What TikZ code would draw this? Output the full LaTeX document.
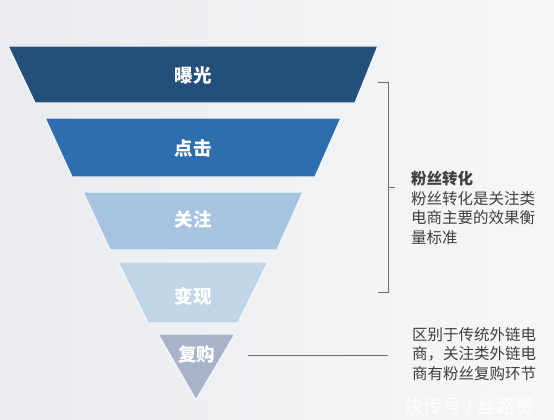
\documentclass[tikz,border=0pt]{standalone}
\usepackage{fontspec}
\newfontfamily\cjk{Noto Sans CJK SC}

\definecolor{bgL}{HTML}{E9EBEE}
\definecolor{bgR}{HTML}{F7F7F8}
\definecolor{layA}{HTML}{234F7A}
\definecolor{layB}{HTML}{2E6DAE}
\definecolor{layC}{HTML}{A6C4E0}
\definecolor{layD}{HTML}{C0D5E8}
\definecolor{layE}{HTML}{A7B3C9}
\definecolor{txtgrey}{HTML}{3F3F3F}
\definecolor{rulegrey}{HTML}{6E6E6E}

\tikzset{
  layer/.style={draw=white!85!layC, line width=1.3pt, line join=miter},
  lab/.style={font=\cjk\fontsize{18.5}{18.5}\selectfont\bfseries, text=white, inner sep=0},
  note/.style={font=\cjk\fontsize{15.5}{19.5}\selectfont, text=txtgrey, align=left,
               anchor=north west, inner sep=0, text width=140pt},
  rule/.style={draw=rulegrey, line width=0.8pt}
}

\begin{document}
\begin{tikzpicture}[x=1pt, y=-1pt]

  % background
  \shade[left color=bgL, right color=bgR] (0,0) rectangle (554,420);
  \useasboundingbox (0,0) rectangle (554,420);

  %draw funnel
  \foreach \ytop/\ybot/\tl/\tr/\bl/\br/\col/\ly/\txt/\name in {
      46/103/8/378/35/355/layA/75/曝光/s1,
      118/177/45/341/72/315/layB/148/点击/s2,
      192/250/83/303/110/277/layC/219/关注/s3,
      262/323/118/268/148/238/layD/296/变现/s4,
      334/400/158/235/196/196/layE/354/复购/s5 }{
         \draw[layer, fill=\col] (\tl,\ytop) -- (\tr,\ytop) -- (\br,\ybot) -- (\bl,\ybot) -- cycle;
         \node[lab] (\name) at ({(\tl+\tr)/2}, \ly) {\txt};
  }

  % bracket
  \coordinate (bt0) at (378,82);
  \coordinate (bt1) at (388,82);
  \coordinate (bb1) at (388,292);
  \coordinate (bb0) at (378,292);
  \coordinate (bm0) at (388,187);
  \coordinate (bm1) at (395,187);
  \draw[rule] (bt0) -- (bt1) -- (bb1) -- (bb0);
  \draw[rule] (bm0) -- (bm1);

  \node[note] (fans) at (411,171) {\textbf{粉丝转化}\\粉丝转化是关注类\\电商主要的效果衡\\量标准};

  % repurchase line
  \coordinate (lineS) at (248,355);
  \coordinate (lineE) at (388,355);
  \draw[rule] (lineS) -- (lineE);

  \node[note] (rebuy) at (412,327) {区别于传统外链电\\商，关注类外链电\\商有粉丝复购环节};

  \node[font=\cjk\fontsize{19}{19}\selectfont, text=white, anchor=west, inner sep=0] (mark) at (404,407) {快传号 / 丝路赞};

\end{tikzpicture}
\end{document}
